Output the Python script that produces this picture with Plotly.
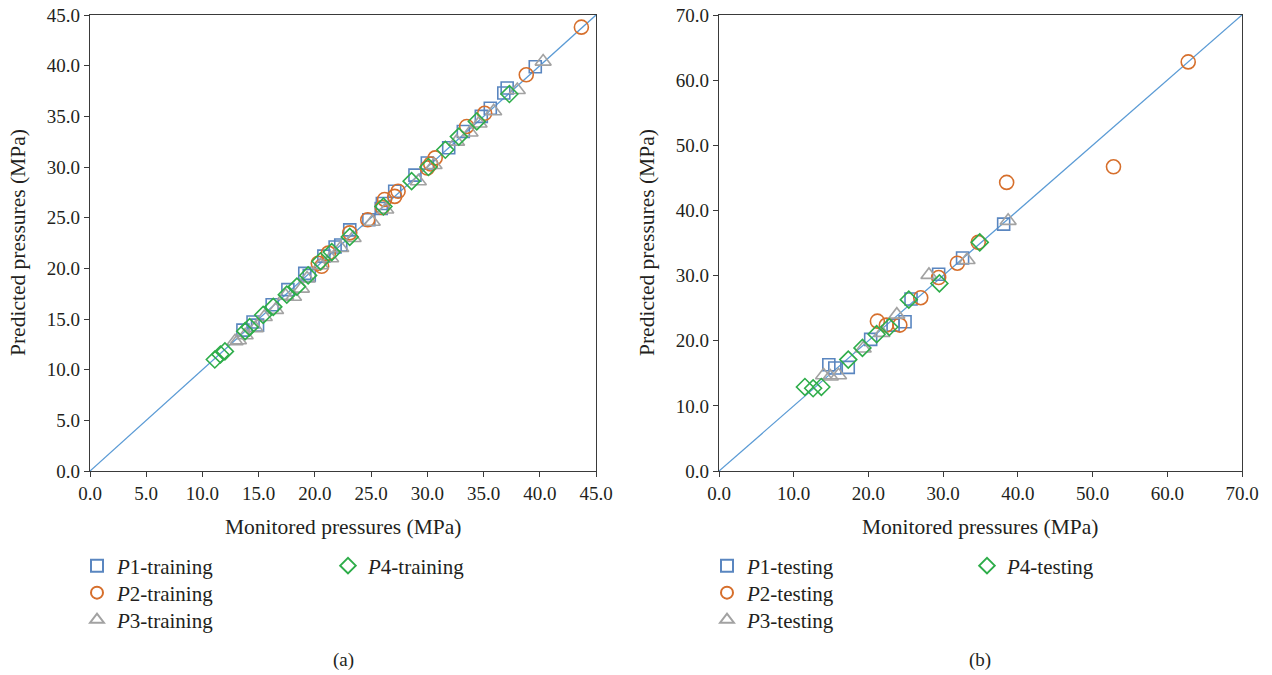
import plotly.graph_objects as go

# ---------------- data ----------------
# Panel (a): training, monitored (x) vs predicted (y), MPa
p1_train_x = [13.6, 14.5, 14.9, 16.2, 17.6, 19.1, 19.5, 20.8, 21.8, 23.1, 24.8, 26.0, 27.1, 28.9, 30.0, 31.9, 33.2, 34.8, 35.6, 36.8, 37.1, 39.6, 22.3, 25.9]
p1_train_y = [13.9, 14.7, 14.4, 16.4, 17.9, 19.5, 19.3, 21.2, 22.1, 23.8, 24.8, 26.4, 27.6, 29.2, 30.4, 31.9, 33.5, 35.0, 35.8, 37.3, 37.8, 39.9, 22.3, 25.9]
p2_train_x = [20.3, 21.2, 23.1, 24.7, 26.2, 27.1, 27.4, 30.0, 30.3, 30.7, 33.5, 35.1, 38.8, 43.7, 26.0, 20.6]
p2_train_y = [20.5, 21.5, 23.5, 24.8, 26.8, 27.1, 27.6, 29.9, 30.3, 30.9, 34.0, 35.3, 39.1, 43.8, 26.0, 20.2]
p3_train_x = [12.9, 13.2, 13.8, 14.7, 15.5, 16.5, 17.4, 18.1, 18.8, 19.3, 20.5, 21.4, 22.3, 23.4, 25.1, 26.3, 29.2, 30.6, 32.6, 33.8, 35.9, 38.0, 40.3, 34.6]
p3_train_y = [12.8, 12.9, 13.4, 14.1, 15.2, 15.9, 17.3, 17.2, 18.0, 19.0, 20.3, 21.0, 22.0, 23.0, 24.6, 25.8, 28.6, 30.2, 32.5, 33.4, 35.5, 37.6, 40.4, 34.3]
p4_train_x = [11.1, 11.6, 12.0, 13.8, 14.2, 15.4, 16.3, 17.5, 18.4, 19.4, 20.5, 21.5, 23.1, 26.1, 28.6, 30.1, 31.6, 32.8, 34.4, 37.3]
p4_train_y = [11.0, 11.5, 11.8, 13.8, 14.2, 15.4, 16.2, 17.4, 18.2, 19.3, 20.7, 21.6, 23.1, 26.1, 28.6, 30.0, 31.7, 33.0, 34.5, 37.2]

# Panel (b): testing
p1_test_x = [14.7, 15.5, 17.3, 20.3, 23.3, 24.9, 25.7, 29.4, 32.6, 38.1]
p1_test_y = [16.3, 15.8, 15.9, 20.2, 22.4, 22.9, 26.4, 30.2, 32.7, 37.9]
p2_test_x = [21.2, 22.4, 24.2, 27.0, 29.4, 31.9, 34.7, 38.5, 52.8, 62.8]
p2_test_y = [23.0, 22.4, 22.4, 26.6, 29.7, 31.9, 35.1, 44.3, 46.7, 62.8]
p3_test_x = [14.0, 14.9, 16.0, 19.3, 21.8, 23.8, 28.1, 33.2, 38.7]
p3_test_y = [14.7, 14.5, 14.7, 18.8, 21.2, 24.0, 30.1, 32.4, 38.4]
p4_test_x = [11.5, 12.6, 13.7, 17.3, 19.2, 21.1, 22.8, 25.4, 29.5, 34.9]
p4_test_y = [12.9, 12.7, 12.9, 17.1, 18.9, 21.0, 22.1, 26.3, 28.8, 35.1]

range_a = [0, 45]
range_b = [0, 70]
ticks_a = [0, 5, 10, 15, 20, 25, 30, 35, 40, 45]
ticks_b = [0, 10, 20, 30, 40, 50, 60, 70]

# ---------------- styling ----------------
FONT = "Liberation Serif"
TXT = "#231F20"
C_SQ = "#5A86C0"
C_CI = "#D66F2C"
C_TR = "#A2A2A2"
C_DI = "#2EAD4A"
C_LINE = "#5B9BD5"

W, H = 1272, 675
def px_x(p):
    return p / W
def px_y(p):
    return 1 - p / H

dom_xa = [px_x(90), px_x(596)]
dom_xb = [px_x(719), px_x(1242)]
dom_y = [px_y(471), px_y(15)]

fig = go.Figure()

series = [
    ("P1", "square-open", C_SQ, 12),
    ("P2", "circle-open", C_CI, 14),
    ("P3", "triangle-up-open", C_TR, 14),
    ("P4", "diamond-open", C_DI, 13),
]
train = [(p1_train_x, p1_train_y), (p2_train_x, p2_train_y), (p3_train_x, p3_train_y), (p4_train_x, p4_train_y)]
test = [(p1_test_x, p1_test_y), (p2_test_x, p2_test_y), (p3_test_x, p3_test_y), (p4_test_x, p4_test_y)]

# legend placement (marker centre pixel positions in the reference)
leg_pos_a = [(97, 566), (97, 593), (97, 620), (348, 566)]
leg_pos_b = [(727, 566), (727, 593), (727, 620), (987, 566)]

# 1:1 lines
fig.add_trace(go.Scatter(x=range_a, y=range_a, mode="lines", line=dict(color=C_LINE, width=1.3),
                         showlegend=False, xaxis="x", yaxis="y", hoverinfo="skip"))
fig.add_trace(go.Scatter(x=range_b, y=range_b, mode="lines", line=dict(color=C_LINE, width=1.3),
                         showlegend=False, xaxis="x2", yaxis="y2", hoverinfo="skip"))

legends = {}
leg_font = dict(family=FONT, size=21, color=TXT)

def add_panel(data, suffix, xa, ya, positions, start):
    for i, ((name, sym, col, sz), (xs, ys)) in enumerate(zip(series, data)):
        lid = f"legend{start + i}" if start + i > 1 else "legend"
        fig.add_trace(go.Scatter(
            x=xs, y=ys, mode="markers", name=f"<i>P</i>{name[1:]}-{suffix}",
            marker=dict(symbol=sym, size=sz, color=col, line=dict(width=1.6, color=col)),
            xaxis=xa, yaxis=ya, legend=lid))
        mx, my = positions[i]
        legends[lid] = dict(x=px_x(mx - 20), y=px_y(my), xanchor="left", yanchor="middle",
                            font=leg_font, bgcolor="rgba(0,0,0,0)", orientation="v",
                            itemsizing="constant")

add_panel(train, "training", "x", "y", leg_pos_a, 1)
add_panel(test, "testing", "x2", "y2", leg_pos_b, 5)

axis_common = dict(showline=True, linecolor="#3a3a3a", linewidth=1.3, mirror=True, automargin=False,
                   ticks="outside", ticklen=5, tickcolor="#3a3a3a", showgrid=False, zeroline=False,
                   ticklabeloverflow="allow",
                   tickformat=".1f", tickfont=dict(family=FONT, size=19, color=TXT))

TITLE_FONT = dict(family=FONT, size=21.5, color=TXT)

def ann(text, x, y, angle=0, font=TITLE_FONT):
    return dict(text=text, x=px_x(x), y=px_y(y), xref="paper", yref="paper", showarrow=False,
                xanchor="center", yanchor="middle", textangle=angle, font=font)

fig.update_layout(
    width=W, height=H,
    margin=dict(l=0, r=0, t=0, b=0),
    paper_bgcolor="white", plot_bgcolor="white",
    xaxis=dict(domain=dom_xa, range=range_a, tickvals=ticks_a, anchor="y", **axis_common),
    yaxis=dict(domain=dom_y, range=range_a, tickvals=ticks_a, anchor="x", **axis_common),
    xaxis2=dict(domain=dom_xb, range=range_b, tickvals=ticks_b, anchor="y2", **axis_common),
    yaxis2=dict(domain=dom_y, range=range_b, tickvals=ticks_b, anchor="x2", **axis_common),
    annotations=[
        ann("Monitored pressures (MPa)", 343, 527),
        ann("Monitored pressures (MPa)", 980, 527),
        ann("Predicted pressures (MPa)", 18, 243, -90),
        ann("Predicted pressures (MPa)", 647, 243, -90),
        ann("(a)", 343, 660, font=dict(family=FONT, size=19, color=TXT)),
        ann("(b)", 980, 660, font=dict(family=FONT, size=19, color=TXT)),
    ],
    **legends,
)

# the page's default 8px body margin would shift the figure; remove it
fig.write_html("out.html", config={"displayModeBar": False},
               post_script="document.body.style.margin='0px';")
